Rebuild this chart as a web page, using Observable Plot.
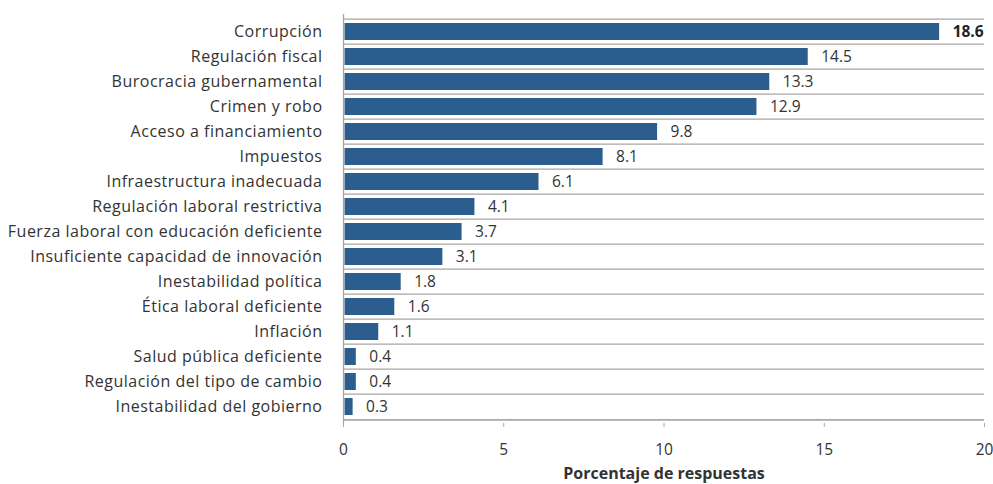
<!DOCTYPE html>
<html>
<head>
<meta charset="utf-8">
<script src="https://cdn.jsdelivr.net/npm/d3@7"></script>
<script src="https://cdn.jsdelivr.net/npm/@observablehq/plot@0.6"></script>
<style>
  html, body { margin: 0; padding: 0; background: #fff; }
  #chart svg { display: block; }
</style>
</head>
<body>
<div id="chart"></div>
<script>
const categories = [
  "Corrupción",
  "Regulación fiscal",
  "Burocracia gubernamental",
  "Crimen y robo",
  "Acceso a financiamiento",
  "Impuestos",
  "Infraestructura inadecuada",
  "Regulación laboral restrictiva",
  "Fuerza laboral con educación deficiente",
  "Insuficiente capacidad de innovación",
  "Inestabilidad política",
  "Ética laboral deficiente",
  "Inflación",
  "Salud pública deficiente",
  "Regulación del tipo de cambio",
  "Inestabilidad del gobierno"
];
const values = [18.6, 14.5, 13.3, 12.9, 9.8, 8.1, 6.1, 4.1, 3.7, 3.1, 1.8, 1.6, 1.1, 0.4, 0.4, 0.3];
const xTicks = [0, 5, 10, 15, 20];
const xLabel = "Porcentaje de respuestas";

const data = categories.map((c, i) => ({category: c, value: values[i]}));

const W = 993, H = 484, mT = 14, mB = 61, mL = 343, mR = 9;
const step = (H - mT - mB) / categories.length;
const font = "'Open Sans', Lato, sans-serif";
const fs = 15.5;
const textColor = "#333";
const axisColor = "#a6a6a6";

const chart = Plot.plot({
  width: W,
  height: H,
  marginTop: mT,
  marginBottom: mB,
  marginLeft: mL,
  marginRight: mR,
  style: {fontFamily: font, fontSize: fs + "px", color: textColor, background: "#fff"},
  x: {domain: [0, 20], ticks: xTicks},
  y: {domain: categories, paddingInner: 0.33, paddingOuter: 0.165, label: null},
  marks: [
    Plot.barX(data, {x: "value", y: "category", fill: "#2c5d8f", inset: 0, insetLeft: 1.5}),
    // y axis line
    Plot.ruleX([0], {stroke: axisColor, strokeWidth: 1.3}),
    // y tick marks at band boundaries
    Plot.tickY(categories, {y: d => d, x1: -0.14, x2: 0, dy: -step / 2, stroke: axisColor, strokeWidth: 1.3}),
    Plot.tickY([categories[categories.length - 1]], {y: d => d, x1: -0.14, x2: 0, dy: step / 2, stroke: axisColor, strokeWidth: 1.3}),
    Plot.axisY({tickSize: 0, tickPadding: 21, fontSize: 16, fill: textColor, label: null}),
    // x axis line
    Plot.ruleY([0], {y: () => categories[categories.length - 1], dy: step / 2, stroke: axisColor, strokeWidth: 1.3, x1: 0, x2: 20}),
    Plot.axisX({ticks: xTicks, tickSize: 4, tickPadding: 16, stroke: axisColor, fill: textColor, fontSize: fs,
      label: xLabel, labelAnchor: "center", labelArrow: "none", labelOffset: 55}),
    // value labels
    Plot.text(data.filter((d, i) => i !== 0), {x: "value", y: "category", text: d => d.value.toFixed(1),
      textAnchor: "start", dx: 13, fill: textColor, fontSize: fs}),
    Plot.text(data.filter((d, i) => i === 0), {x: "value", y: "category", text: d => d.value.toFixed(1),
      textAnchor: "start", dx: 13, fill: "#222", fontSize: fs, fontWeight: "bold"})
  ]
});
chart.querySelectorAll("[aria-label='y-axis tick label'] text").forEach(t => {
  t.setAttribute("letter-spacing", "0.5");
});
chart.querySelectorAll("[aria-label='x-axis label'] text").forEach(t => {
  t.setAttribute("font-weight", "bold");
  t.setAttribute("font-size", "16");
});
document.getElementById("chart").appendChild(chart);
</script>
</body>
</html>
